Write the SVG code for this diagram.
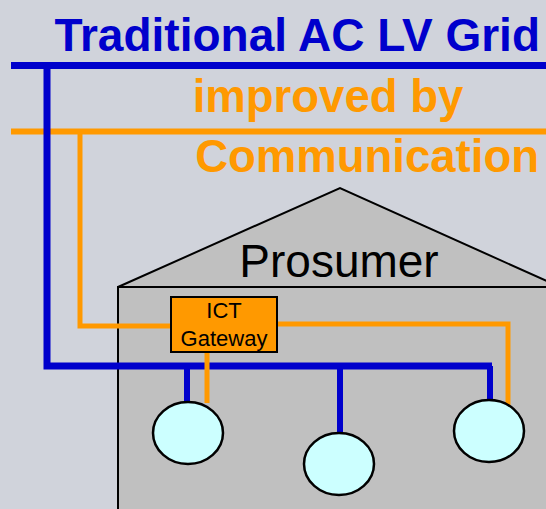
<svg xmlns="http://www.w3.org/2000/svg" width="546" height="509" viewBox="0 0 546 509">
<style>
.t{font-family:"Liberation Sans",Arial,sans-serif}
.blue{stroke:#0000CC;stroke-width:6;fill:none}
.orange{stroke:#FF9900;stroke-width:4;fill:none}
.bus{stroke-width:7}
.obus{stroke-width:6}
.dev{fill:#CCFFFF;stroke:#000;stroke-width:2.5}
</style>
<rect width="546" height="509" fill="#D0D3DB"/>
<g id="house">
<polygon points="118,287 340,188 560,287" fill="#C0C0C0" stroke="#000" stroke-width="2"/>
<rect x="118" y="287" width="440" height="240" fill="#C0C0C0" stroke="#000" stroke-width="2"/>
<text class="t" x="339" y="277" font-size="46" text-anchor="middle" fill="#000">Prosumer</text>
</g>
<g id="titles">
<text class="t" x="540" y="51" font-size="46" font-weight="bold" text-anchor="end" fill="#0000CC">Traditional AC LV Grid</text>
<text class="t" x="328" y="112" font-size="45.5" font-weight="bold" text-anchor="middle" fill="#FF9900">improved by</text>
<text class="t" x="539" y="172" font-size="45.5" font-weight="bold" text-anchor="end" fill="#FF9900">Communication</text>
</g>
<g id="connectors">
<path class="blue bus" d="M11,65.5 H546"/>
<path class="orange obus" d="M11,131.5 H546"/>
<path class="blue bus" d="M47,65 V366 H492"/>
<path class="blue" d="M187,366 V403 M340,366 V433 M490,366 V400"/>
<path class="orange" style="stroke-width:5" d="M80,131 V326 H171"/>
<path class="orange" style="stroke-width:5" d="M277,324 H508 V405 M207,352 V403"/>
</g>
<g id="gateway">
<rect x="171" y="297" width="106" height="55" fill="#FF9900" stroke="#000" stroke-width="2"/>
<text class="t" x="224" y="318" font-size="22" text-anchor="middle" fill="#000">ICT</text>
<text class="t" x="224" y="346" font-size="22" text-anchor="middle" fill="#000">Gateway</text>
</g>
<g id="device1"><ellipse class="dev" cx="188" cy="433" rx="35" ry="31"/></g>
<g id="device2"><ellipse class="dev" cx="339" cy="464" rx="35" ry="31"/></g>
<g id="device3"><ellipse class="dev" cx="489" cy="431" rx="35" ry="31"/></g>
</svg>
